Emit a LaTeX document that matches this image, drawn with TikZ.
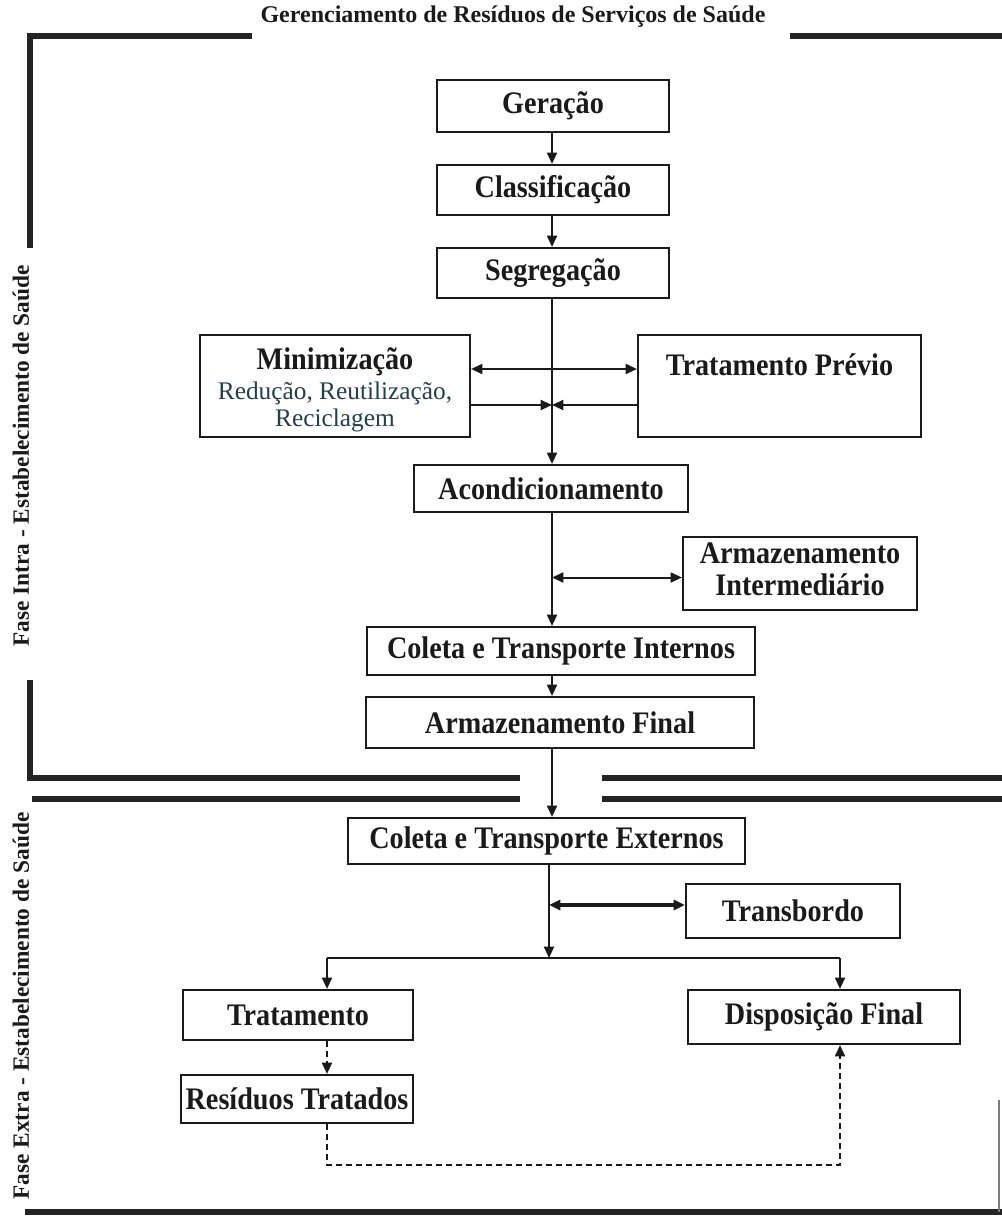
\documentclass[tikz,border=0pt]{standalone}
\usepackage{fontspec}
\setmainfont{Liberation Serif}
\newfontfamily\narrowserif{Liberation Serif}[FakeStretch=0.9]
\usetikzlibrary{arrows.meta,calc}
\definecolor{ink}{RGB}{26,26,26}
\definecolor{subink}{RGB}{38,62,74}
\definecolor{framec}{RGB}{36,36,36}
\begin{document}
\begin{tikzpicture}[x=0.75pt,y=-0.75pt,
  box/.style={draw=ink, line width=1.6pt, fill=white, inner sep=0pt,
    font=\narrowserif\bfseries\fontsize{23.5}{26}\selectfont, text=ink, align=center},
  sz/.style 2 args={minimum width=#1*0.75pt, minimum height=#2*0.75pt},
  tip/.tip={Triangle[length=8.5pt,width=7.5pt]},
  arr/.style={draw=ink, line width=1.5pt, -tip},
  darr/.style={draw=ink, line width=1.5pt, tip-tip},
  dasharr/.style={draw=ink, line width=1.5pt, dash pattern=on 4.5pt off 3pt, -tip},
  framebar/.style={draw=framec, line width=4.5pt},
  side/.style={rotate=90, font=\bfseries\fontsize{17.5}{20}\selectfont, text=ink, inner sep=0pt},
  lbl/.style={font=\narrowserif\bfseries\fontsize{23.5}{26}\selectfont, text=ink, inner sep=0pt, align=center},
  sublbl/.style={font=\fontsize{19}{20}\selectfont, text=subink, inner sep=0pt},
]
\useasboundingbox (0,0) rectangle (1002,1216);

% ---- outer frames ----
\draw[framebar] (252,36) -- (30,36) -- (30,248);
\draw[framebar] (790,36) -- (1002,36);
\draw[framebar] (30,680) -- (30,778) -- (520,778);
\draw[framebar] (602,778) -- (1002,778);
\draw[framebar] (32,799) -- (520,799);
\draw[framebar] (602,799) -- (1002,799);
\draw[framebar] (25,1212) -- (1002,1212);
\draw[draw=framec!60, line width=0.8pt] (999,1100) -- (999,1212);

\node[font=\bfseries\fontsize{18}{20}\selectfont, text=ink, inner sep=0pt] (title) at (513,17)
  {Gerenciamento de Resíduos de Serviços de Saúde};
\node[side] (intra) at (21,456) {Fase Intra - Estabelecimento de Saúde};
\node[side] (extra) at (21,1006) {Fase Extra - Estabelecimento de Saúde};

% ---- column references ----
\coordinate (cx) at (552,0);
\coordinate (jn) at (549,958);
\coordinate (jl) at (327,958);
\coordinate (jr) at (840,958);
\coordinate (dl) at (327,1165);
\coordinate (dr) at (840,1165);

% ---- intra-establishment steps ----
\node[box, sz={232}{52}] (ger) at (553,106) {Geração};
\node[box, sz={232}{50}] (cla) at (553,190) {Classificação};
\node[box, sz={232}{50}] (seg) at (553,273) {Segregação};
\node[box, sz={270}{102}] (min) at (335,386) {};
\node[lbl] (mint) at (335,362) {Minimização};
\node[sublbl] (mins1) at (335,393) {Redução, Reutilização,};
\node[sublbl] (mins2) at (335,420) {Reciclagem};
\node[box, sz={283}{102}] (trp) at (779.5,386) {};
\node[lbl] (trpt) at (779.5,365) {Tratamento Prévio};
\node[box, sz={274}{47}] (aco) at (551,488.5) {Acondicionamento};
\node[box, sz={234}{73}] (ami) at (800,573.5) {};
\node[lbl] (amit1) at (800,553) {Armazenamento};
\node[lbl] (amit2) at (800,585) {Intermediário};
\node[box, sz={388}{48}] (cti) at (561,651) {Coleta e Transporte Internos};
\node[box, sz={388}{51}] (afi) at (560,722.5) {Armazenamento Final};

% ---- extra-establishment steps ----
\node[box, sz={397}{46}] (cte) at (546.5,841) {Coleta e Transporte Externos};
\node[box, sz={214}{54}] (trb) at (793,911) {Transbordo};
\node[box, sz={230}{50}] (tra) at (298,1015) {Tratamento};
\node[box, sz={272}{54}] (dfi) at (824,1017) {Disposição Final};
\node[box, sz={232}{48}] (rtr) at (297,1099) {Resíduos Tratados};

% ---- connectors ----
\draw[arr] (ger.south -| cx) -- (cla.north -| cx);
\draw[arr] (cla.south -| cx) -- (seg.north -| cx);
\draw[arr] (seg.south -| cx) -- (aco.north -| cx);
\draw[darr] ($(min.east)+(0,-17)$) -- ($(trp.west)+(0,-17)$);
\draw[arr] ($(min.east)+(0,19)$) coordinate (m1) -- (m1 -| cx);
\draw[arr] ($(trp.west)+(0,19)$) coordinate (t1) -- (t1 -| cx);
\draw[arr] (aco.south -| cx) -- (cti.north -| cx);
\draw[darr] ($(ami.west)+(0,4)$) coordinate (a1) -- (a1 -| cx);
\draw[arr] (cti.south -| cx) -- (afi.north -| cx);
\draw[arr] (afi.south -| cx) -- (cte.north -| cx);
\draw[darr, line width=2.6pt] ($(trb.west)+(0,-6)$) coordinate (b1) -- (b1 -| jn);
\draw[arr] (cte.south -| jn) -- (jn);
\draw[draw=ink, line width=2.2pt] (jl) -- (jr);
\draw[arr] (jl) -- (tra.north -| jl);
\draw[arr] (jr) -- (dfi.north -| jr);
\draw[dasharr] (tra.south -| jl) -- (rtr.north -| jl);
\draw[dasharr] (rtr.south -| dl) -- (dl) -- (dr) -- (dfi.south -| dr);
\end{tikzpicture}
\end{document}
